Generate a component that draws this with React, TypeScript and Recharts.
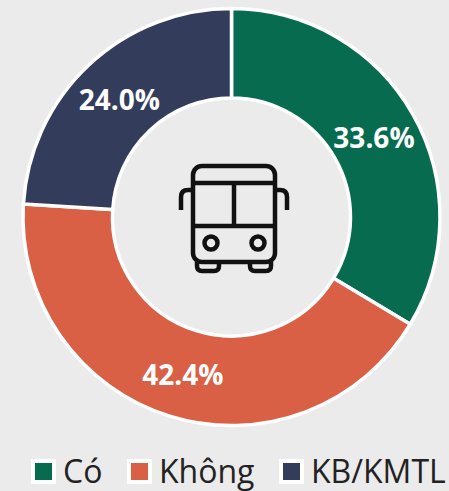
import { PieChart, Pie, Cell, Legend } from "recharts";

const categories = ["Có", "Không", "KB/KMTL"];
const values = [33.6, 42.4, 24.0];
const colors = ["#076B50", "#D95F45", "#343C5C"];

const data = categories.map((name, i) => ({ name, value: values[i] }));

const RADIAN = Math.PI / 180;

const renderLabel = ({ cx, cy, midAngle, innerRadius, outerRadius, value }: any) => {
  const r = (innerRadius + outerRadius) / 2;
  const x = cx + r * Math.cos(-midAngle * RADIAN);
  const y = cy + r * Math.sin(-midAngle * RADIAN);
  return (
    <text
      x={x}
      y={y + 1}
      fill="#fff"
      fontFamily="'Open Sans', sans-serif"
      fontWeight={700}
      fontSize={28}
      textAnchor="middle"
      dominantBaseline="central"
    >
      {value.toFixed(1)}%
    </text>
  );
};

const swatchLeft = [31, 127, 279];

const renderLegend = () => (
  <div style={{ position: "relative", height: 40, width: 449 }}>
    {categories.map((name, i) => (
      <div
        key={name}
        style={{
          position: "absolute",
          left: swatchLeft[i],
          top: 0,
          display: "flex",
          alignItems: "center",
          whiteSpace: "nowrap",
          fontFamily: "'Open Sans', sans-serif",
          fontSize: 32,
          lineHeight: "40px",
          color: "#222",
        }}
      >
        <span
          style={{
            width: 17,
            height: 17,
            background: colors[i],
            border: "4px solid #fff",
            marginRight: 7,
            display: "inline-block",
          }}
        />
        {name}
      </div>
    ))}
  </div>
);

const BusIcon = () => (
  <g fill="none" stroke="#111" strokeWidth={4.5} strokeLinecap="butt">
    <rect x={193} y={166} width={82} height={96} rx={9} />
    <path d="M193 183H275M193 226H275M234 183V226" />
    <circle cx={211} cy={243} r={6.5} />
    <circle cx={258} cy={243} r={6.5} />
    <path d="M197 262V266Q197 271 202 271H214Q219 271 219 266V262" />
    <path d="M250 262V266Q250 271 255 271H266Q271 271 271 266V262" />
    <path d="M181 210V197Q181 190 188 190H193" />
    <path d="M287 210V197Q287 190 280 190H275" />
  </g>
);

export default function App() {
  return (
    <div style={{ position: "absolute", left: 0, top: 0, width: 449, height: 491, background: "#EBEBEB", overflow: "hidden" }}>
      <PieChart width={449} height={491} margin={{ top: 0, right: 0, bottom: 0, left: 0 }}>
        <Pie
          data={data}
          dataKey="value"
          nameKey="name"
          cx={231.5}
          cy={217}
          innerRadius={119}
          outerRadius={208.5}
          startAngle={90}
          endAngle={-270}
          stroke="#fff"
          strokeWidth={3.5}
          label={renderLabel}
          labelLine={false}
          isAnimationActive={false}
        >
          {categories.map((name, i) => (
            <Cell key={name} fill={colors[i]} />
          ))}
        </Pie>
        <Legend
          content={renderLegend}
          wrapperStyle={{ left: 0, top: 451, width: 449, height: 40 }}
        />
        <BusIcon />
      </PieChart>
    </div>
  );
}
